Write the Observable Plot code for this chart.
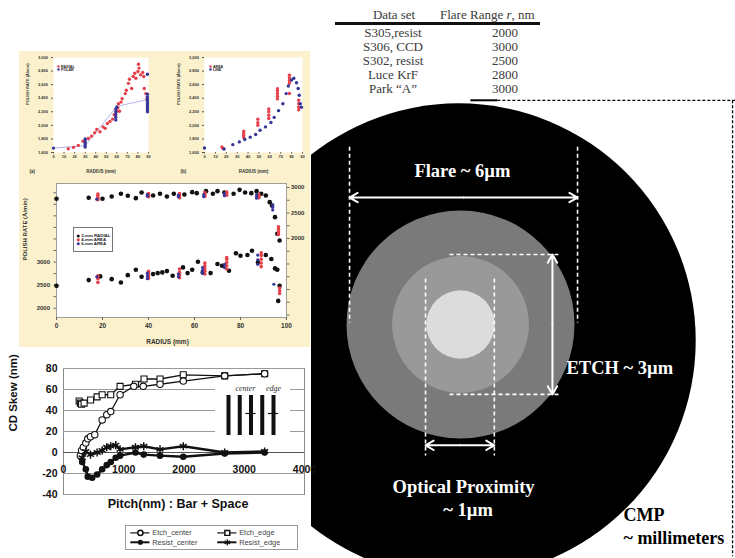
<!DOCTYPE html>
<html><head><meta charset="utf-8">
<script src="https://cdn.jsdelivr.net/npm/d3@7"></script>
<script src="https://cdn.jsdelivr.net/npm/@observablehq/plot@0.6"></script>
<style>
html,body{margin:0;padding:0;background:#fff;}
#root{position:relative;width:735px;height:558px;overflow:hidden;background:#fff;}
.tcell{position:absolute;font-family:"Liberation Serif","Times New Roman",serif;font-size:13px;color:#3a3a3a;white-space:nowrap;line-height:14px;}
</style></head><body><div id="root"></div>
<script>
// ================= DATA =================
// Table
const tableHeaders = ["Data set", "Flare Range r, nm"];
const tableDataSets = ["S305,resist", "S306, CCD", "S302, resist", "Luce KrF", "Park \u201CA\u201D"];
const tableFlareRange = [2000, 3000, 2500, 2800, 3000];

// Polish-rate chart (a): RADIAL (red) / POLAR (blue)
const aRadial = [[14,1655],[19,1675],[23.5,1705],[28,1765],[33,1806],[36,1841],[39,1891],[41,1941],[44,1906],[47,1977],[49,1956],[51,2027],[53.5,2057],[56,2092],[57.5,2157],[60,2207],[61,2258],[61.5,2318],[62.5,2207],[64,2343],[65,2393],[68,2468],[69,2518],[71,2619],[72,2679],[74,2543],[75.5,2719],[77,2769],[78,2694],[80,2794],[80.5,2900],[81,2844],[82.5,2744],[84.5,2779],[85.5,2719],[86,2543],[87.5,2468],[88.5,2393]];
const aPolar = [[0,1665],[30,1680],[30,1710],[30,1740],[30,1770],[30,1800],[59,2080],[59,2120],[59,2160],[59,2200],[59,2240],[60,2270],[89,2200],[89,2230],[89,2260],[89,2290],[89,2320],[89,2350],[89,2380],[89,2420],[89,2460],[89,2754]];
const aPolarTrend = [[0,1665],[30,1700],[60,2280],[89,2380]];
// Polish-rate chart (b): AREA (red) / LINE (blue)
const bArea = [[16,1680],[17,1660],[36,1820],[36,1850],[36,1880],[36,1915],[49,2000],[49,2040],[49,2090],[59,2100],[59,2150],[59,2200],[59,2240],[67,2390],[67,2430],[67,2470],[67,2510],[67,2540],[78,2470],[78,2620],[78,2660],[78,2700],[78,2740],[86.5,2230],[86.5,2270],[86.5,2320],[86.5,2370]];
const bLine = [[0,1666],[18,1651],[26,1716],[32,1756],[37,1791],[42,1826],[47,1866],[51,1927],[56,1977],[61,2042],[64,2117],[68,2217],[72,2318],[75,2468],[77,2579],[80,2669],[82,2694],[84.5,2629],[86,2543],[87,2443],[88,2318],[89,2267]];
const smallRadiusTicks = [0,10,20,30,40,50,60,70,80,90];
const smallRateTicks = [1600,1800,2000,2200,2400,2600,2800,3000];

// Polish-rate chart (c): lower group (left axis) and upper group (right axis)
const cLowerRadial = [[0,2485],[14,2609],[19,2689],[24,2630],[28,2558],[31,2717],[34.5,2833],[37,2681],[42,2739],[44,2761],[46,2776],[48,2804],[50.5,2703],[55,2884],[57,2761],[59,2833],[61.5,3007],[63.6,2776],[67,2761],[70,2957],[72,2920],[75,2811],[78,3189],[80,3137],[83,3152],[85,3246],[87.6,2993],[91,3152],[93.4,3065],[95,2863],[96,2833],[96.4,2159],[97,2485]];
const cLower4mm = [[18,2700],[18,2640],[18,2560],[40,2650],[40,2700],[40,2750],[40,2800],[53.5,2660],[53.5,2720],[53.5,2780],[53.5,2850],[64.5,2740],[64.5,2800],[64.5,2860],[64.5,2920],[64.5,2980],[74,2850],[74,2920],[74,2990],[74,3060],[74,3100],[89,2900],[89,2980],[89,3060],[89,3140],[89,3200],[97,2320],[97,2380],[97,2440]];
const cLower6mm = [[17.5,2680],[39.5,2640],[39.5,2700],[39.5,2760],[53,2680],[53,2740],[63.5,2760],[63.5,2820],[63.5,2880],[73,2880],[73,2950],[87.5,2950],[87.5,3050],[87.5,3150],[94.5,2520]];
const cUpperRadial = [[0,2778],[14,2798],[20,2778],[24,2824],[28,2876],[31,2837],[34.5,2791],[37,2902],[42,2843],[45,2876],[48,2824],[51,2876],[55.6,2863],[59,2908],[61,2889],[65,2928],[68,2876],[70,2928],[73,2902],[77,2876],[79.6,2954],[82,2902],[84.7,2889],[87,2928],[89,2876],[91,2843],[92.7,2712],[93.7,2647],[95,2418],[96,2092],[97,1961]];
const cUpper4mm = [[18,2760],[18,2800],[18,2840],[18,2870],[40,2820],[40,2850],[40,2880],[53.5,2800],[53.5,2840],[53.5,2880],[64.5,2830],[64.5,2870],[64.5,2900],[74,2850],[74,2880],[74,2910],[88,2800],[88,2830],[88,2860],[96.5,2080],[96.5,2130],[96.5,2180],[96.5,2230]];
const cUpper6mm = [[17.5,2770],[39.5,2830],[39.5,2860],[53,2820],[53,2850],[64,2820],[64,2860],[73,2840],[73,2880],[87,2790],[87,2820],[87,2860],[94,2560],[94,2610],[94,2660]];
const cRadiusTicks = [0,20,40,60,80,100];
const cLeftTicks = [2000,2250,2500,2750,3000,3250,3500,3750,4000,4250,4500];
const cRightTicks = [500,750,1000,1250,1500,1750,2000,2250,2500,2750,3000];
const cLabelledTicks = [2000,2500,3000];
const cLegend = ["3-mm RADIAL","4-mm AREA","6-mm AREA"];

// CD skew chart
const cdXTicks = [0,1000,2000,3000,4000];
const cdYTicks = [-40,-20,0,20,40,60,80];
const cdSeries = ["Etch_center","Etch_edge","Resist_center","Resist_edge"];
const etchCenter = [[280,-3],[300,2],[330,5],[370,9],[403,13],[448,15],[519,17],[642,31],[718,36],[784,39],[939,55],[1167,63],[1323,63],[1602,65],[1988,68],[2675,73],[3338,75]];
const etchEdge = [[260,49],[280,47],[300,46],[342,47],[450,50],[558,53],[642,55],[784,55],[939,63],[1194,65],[1337,70],[1602,70],[1988,74],[2675,73],[3338,75]];
const resistCenter = [[310,-9],[370,-16],[403,-23],[476,-24],[558,-21],[642,-16],[718,-12],[784,-9],[867,-5],[939,-3],[1194,0],[1332,-2],[1602,-3],[1988,-4],[2675,-1],[3338,0]];
const resistEdge = [[310,-5],[370,1],[448,-2],[558,0],[642,2],[718,5],[784,6],[867,7],[939,3],[1194,5],[1332,6],[1602,3],[1988,6],[2675,0],[3338,1]];
const insetBars = [0,1,2,3,4];
const insetCrossBars = [2,4];
const insetLabels = [{text:"center", at:1.5},{text:"edge", at:4}];

// Schematic "range of influence" diagram (units: schematic µm)
const zoneNames = ["CMP","Flare","Etch","Optical proximity"];
const zoneRadius = [6.24, 3.0, 1.8, 0.9];
const zoneCenterX = [-0.05, 0, 0, 0];
const zoneCenterY = [-0.42, 0, 0, 0];
const zoneFill = ["#000000","#7a7a7a","#999999","#dcdcdc"];
const flareSpan = [-2.92, 3.08];
const etchSpan = [-1.84, 1.84];
const opticalSpan = [-0.92, 0.89];
const diagramLabels = ["Flare ~ 6\u00B5m","ETCH ~ 3\u00B5m","Optical Proximity","~ 1\u00B5m","CMP","~ millimeters"];

// ================= HELPERS =================
const root = document.getElementById("root");
function place(el, left, top){ el.style.position="absolute"; el.style.left=left+"px"; el.style.top=top+"px"; root.appendChild(el); return el; }
const RED = "#e5404a", NAVY = "#36369a";
const SANS = "Liberation Sans, Arial, sans-serif";
const SERIF = "Liberation Serif, Times New Roman, serif";
const pairs = a => a.map(d => ({x:d[0], y:d[1]}));

// ================= DIAGRAM =================
(function(){
  const zones = zoneNames.map((n,i)=>({name:n, r:zoneRadius[i], cx:zoneCenterX[i], cy:zoneCenterY[i], fill:zoneFill[i]}));
  const dash = {stroke:"white", strokeWidth:1.6, strokeDasharray:"4,3"};
  const arr = {stroke:"white", strokeWidth:2, headLength:7, bend:0};
  const fMid = (flareSpan[0]+flareSpan[1])/2, oMid = (opticalSpan[0]+opticalSpan[1])/2;
  const flareDash = flareSpan.map(x=>({x1:x, x2:x, y1:4.68, y2:0.05}));
  const etchDash = etchSpan.map(y=>({x1:-0.29, x2:2.58, y1:y, y2:y}));
  const optDash = opticalSpan.map(x=>({x1:x, x2:x, y1:1.21, y2:-3.45}));
  const flareArrows = flareSpan.map(x=>({x1:fMid, x2:x, y1:3.34, y2:3.34}));
  const etchArrows = etchSpan.map(y=>({x1:2.42, x2:2.42, y1:0, y2:y}));
  const optArrows = opticalSpan.map(x=>({x1:oMid, x2:x, y1:-3.18, y2:-3.18}));
  const centered = [
    {t:diagramLabels[0], x:0.05, y:4.05},
    {t:diagramLabels[2], x:0.08, y:-4.29},
    {t:diagramLabels[3], x:0.2, y:-4.89}
  ];
  const etchLab = [{t:diagramLabels[1], x:2.79, y:-1.16}];
  const cmpLab = [{t:diagramLabels[4], x:4.29, y:-5.03},{t:diagramLabels[5], x:4.29, y:-5.63}];
  const tstyle = {fontSize:18.5, fontWeight:"bold", fontFamily:SERIF};
  const svg = Plot.plot({
    width:424, height:558, margin:0,
    x:{domain:[-3.921, 7.237], axis:null},
    y:{domain:[-6.158, 8.526], axis:null},
    r:{type:"linear", domain:[0,1], range:[0,38]},
    color:{type:"identity"},
    style:{background:"transparent", overflow:"hidden"},
    marks:[
      Plot.dot(zones, {x:"cx", y:"cy", r:"r", fill:"fill", stroke:null}),
      Plot.link(flareDash, {x1:"x1",x2:"x2",y1:"y1",y2:"y2", ...dash}),
      Plot.link(etchDash, {x1:"x1",x2:"x2",y1:"y1",y2:"y2", ...dash}),
      Plot.link(optDash, {x1:"x1",x2:"x2",y1:"y1",y2:"y2", ...dash}),
      Plot.arrow(flareArrows, {x1:"x1",x2:"x2",y1:"y1",y2:"y2", ...arr}),
      Plot.arrow(etchArrows, {x1:"x1",x2:"x2",y1:"y1",y2:"y2", ...arr}),
      Plot.arrow(optArrows, {x1:"x1",x2:"x2",y1:"y1",y2:"y2", ...arr}),
      Plot.text(centered, {x:"x", y:"y", text:"t", textAnchor:"middle", fill:"white", ...tstyle}),
      Plot.text(etchLab, {x:"x", y:"y", text:"t", textAnchor:"start", fill:"white", ...tstyle}),
      Plot.text(cmpLab, {x:"x", y:"y", text:"t", textAnchor:"start", fill:"black", ...tstyle, fontSize:18}),
      Plot.link([{x1:0.26,x2:0.97,y:5.9}], {x1:"x1",x2:"x2",y1:"y",y2:"y", stroke:"black", strokeWidth:2}),
      Plot.link([{x1:0.97,x2:7.24,y:5.9}], {x1:"x1",x2:"x2",y1:"y",y2:"y", stroke:"black", strokeWidth:1.3, strokeDasharray:"3,2"}),
      Plot.link([{x:7.16,y1:5.9,y2:-6.1}], {x1:"x",x2:"x",y1:"y1",y2:"y2", stroke:"black", strokeWidth:1.3, strokeDasharray:"3,2"})
    ]
  });
  place(svg, 311, 0);
})();

// ================= TABLE =================
(function(){
  const h1 = place(document.createElement("div"), 349, 8); h1.className="tcell"; h1.style.width="90px"; h1.style.textAlign="center"; h1.textContent = tableHeaders[0];
  const h2 = place(document.createElement("div"), 440, 8); h2.className="tcell";
  h2.innerHTML = tableHeaders[1].replace(" r,", " <i>r</i>,");
  const rule = place(document.createElement("div"), 335, 22); rule.style.width="205px"; rule.style.height="2.5px"; rule.style.background="#111";
  tableDataSets.forEach((name,i)=>{
    const y = 26 + i*14;
    const c1 = place(document.createElement("div"), 343, y); c1.className="tcell"; c1.style.width="100px"; c1.style.textAlign="center"; c1.textContent=name;
    const c2 = place(document.createElement("div"), 475, y); c2.className="tcell"; c2.style.width="60px"; c2.style.textAlign="center"; c2.textContent=String(tableFlareRange[i]);
  });
})();

// ================= YELLOW PANEL =================
(function(){
  const bg = place(document.createElement("div"), 19, 51);
  bg.style.width="291px"; bg.style.height="296px"; bg.style.background="#fbf2cd";
})();

function miniLegend(labels, colors, opt){
  const items = labels.map((l,i)=>({label:l, color:colors[i]}));
  return Plot.plot({
    width:opt.width, height:opt.height, margin:0,
    x:{domain:[0,1], range:[opt.dotX, opt.dotX+1], axis:null},
    y:{type:"point", domain:labels, range:opt.yRange, axis:null},
    color:{type:"identity"},
    style:Object.assign({background:opt.bg||"transparent", fontFamily:SANS, overflow:"hidden"}, opt.border?{border:opt.border, boxSizing:"border-box"}:{}),
    marks:[
      Plot.dot(items, {x:()=>0, y:"label", r:opt.r, fill:"color", stroke:null}),
      Plot.text(items, {x:()=>0, y:"label", text:"label", dx:opt.textDx, textAnchor:"start", fontSize:opt.fontSize, fontWeight:"bold", fill:"#222"})
    ]
  });
}

function polishSmall(series, trend, tag, marginRight){
  const marks = [
    Plot.frame({fill:"white", stroke:null}),
    Plot.axisX({ticks:smallRadiusTicks, tickSize:1.5, tickPadding:1, fontSize:4, fontWeight:"bold", label:null, stroke:"#555"}),
    Plot.axisY({ticks:smallRateTicks, tickSize:2, tickPadding:3.5, fontSize:4, fontWeight:"bold", label:null, stroke:"#555"})
  ];
  if (trend) marks.push(Plot.line(pairs(trend), {x:"x", y:"y", stroke:"#9da3e6", strokeWidth:0.8}));
  series.forEach(s => marks.push(Plot.dot(pairs(s.data), {x:"x", y:"y", r:1.7, fill:s.color, stroke:null})));
  marks.push(
    Plot.text(["POLISH RATE (\u00C5/min)"], {text:d=>d, frameAnchor:"left", rotate:-90, dx:-26, fontSize:4, fontWeight:"bold", fill:"#333"}),
    Plot.text(["RADIUS (mm)"], {text:d=>d, frameAnchor:"bottom", dy:20, fontSize:4.5, fontWeight:"bold", fill:"#333"}),
    Plot.text([tag], {text:d=>d, frameAnchor:"bottom-left", dx:-24, dy:20, fontSize:4.5, fontWeight:"bold", fill:"#333"})
  );
  return Plot.plot({
    width:140, height:130, marginLeft:34, marginRight, marginTop:6, marginBottom:29,
    x:{domain:[0,90], axis:null}, y:{domain:[1600,3000], axis:null},
    style:{background:"transparent", fontFamily:SANS, color:"#333", overflow:"visible"},
    marks
  });
}

place(polishSmall([{data:aRadial, color:RED},{data:aPolar, color:NAVY}], aPolarTrend, "(a)", 11), 19, 51);
place(miniLegend(["RADIAL","POLAR"], [RED,NAVY], {width:22, height:12, dotX:2, yRange:[3,9], r:1.2, textDx:2.5, fontSize:3.6}), 56, 61);
place(polishSmall([{data:bArea, color:RED},{data:bLine, color:NAVY}], null, "(b)", 8), 170, 51);
place(miniLegend(["AREA","LINE"], [RED,NAVY], {width:22, height:12, dotX:2, yRange:[3,9], r:1.2, textDx:2.5, fontSize:3.6}), 208, 61);

// ================= CHART (c) =================
(function(){
  const common = {width:291, height:170, marginLeft:37, marginRight:24, marginTop:5, marginBottom:31};
  const lbl = d => cLabelledTicks.includes(d) ? String(d) : "";
  const c1 = Plot.plot({
    ...common,
    x:{domain:[0,100], axis:null}, y:{domain:[1800,4700], axis:null},
    style:{background:"transparent", fontFamily:SANS, color:"#333", overflow:"visible"},
    marks:[
      Plot.frame({fill:"white", stroke:"#888", strokeWidth:0.8}),
      Plot.axisX({ticks:cRadiusTicks, tickSize:3, tickPadding:3, fontSize:6.5, fontWeight:"bold", label:null, stroke:"#666"}),
      Plot.axisY({ticks:cLeftTicks, tickFormat:lbl, tickSize:2.5, tickPadding:4, fontSize:6, fontWeight:"bold", label:null, stroke:"#666"}),
      Plot.dot(pairs(cLowerRadial), {x:"x", y:"y", r:2.3, fill:"#111", stroke:null}),
      Plot.dot(pairs(cLower4mm), {x:"x", y:"y", r:1.8, fill:RED, stroke:null}),
      Plot.dot(pairs(cLower6mm), {x:"x", y:"y", r:1.6, fill:NAVY, stroke:null}),
      Plot.text(["POLISH RATE (\u00C5/min)"], {text:d=>d, frameAnchor:"left", rotate:-90, dx:-31, dy:10, fontSize:6, fontWeight:"bold", fill:"#333"}),
      Plot.text(["RADIUS (mm)"], {text:d=>d, frameAnchor:"bottom", dx:-4, dy:26, fontSize:6.5, fontWeight:"bold", fill:"#333"})
    ]
  });
  place(c1, 19, 178);
  const c2 = Plot.plot({
    ...common,
    x:{domain:[0,100], axis:null}, y:{domain:[451,3078], axis:null},
    style:{background:"transparent", fontFamily:SANS, color:"#333", overflow:"visible"},
    marks:[
      Plot.axisY({anchor:"right", ticks:cRightTicks, tickFormat:lbl, tickSize:2.5, tickPadding:2, fontSize:6, fontWeight:"bold", label:null, stroke:"#666"}),
      Plot.dot(pairs(cUpperRadial), {x:"x", y:"y", r:2.3, fill:"#111", stroke:null}),
      Plot.dot(pairs(cUpper4mm), {x:"x", y:"y", r:1.8, fill:RED, stroke:null}),
      Plot.dot(pairs(cUpper6mm), {x:"x", y:"y", r:1.6, fill:NAVY, stroke:null})
    ]
  });
  place(c2, 19, 178);
  place(miniLegend(cLegend, ["#111",RED,NAVY], {width:40, height:24, dotX:4, yRange:[5,19], r:1.6, textDx:3, fontSize:4.6, bg:"white", border:"0.8px solid #777"}), 73, 227);
})();

// ================= CD SKEW CHART =================
(function(){
  const cd = Plot.plot({
    width:311, height:211, marginLeft:63, marginRight:7, marginTop:21, marginBottom:64,
    x:{domain:[0,4000], axis:null}, y:{domain:[-40,80], axis:null},
    style:{background:"transparent", fontFamily:SANS, color:"#111", overflow:"visible"},
    marks:[
      Plot.frame({fill:"white", stroke:"#8a8a8a"}),
      Plot.ruleY(cdYTicks, {stroke:"#9a9a9a", strokeWidth:1}),
      Plot.ruleY([0], {stroke:"#555", strokeWidth:1.2}),
      Plot.axisY({ticks:cdYTicks, tickFormat:d=>String(d), tickSize:0, tickPadding:6, fontSize:10.5, fontWeight:"bold", label:null}),
      Plot.text(cdXTicks, {x:d=>d, y:()=>0, text:d=>String(d), dy:17, fontSize:10.5, fontWeight:"bold", fill:"#111"}),
      Plot.line(pairs(etchCenter), {x:"x", y:"y", stroke:"#111", strokeWidth:1.3}),
      Plot.line(pairs(etchEdge), {x:"x", y:"y", stroke:"#111", strokeWidth:1.3}),
      Plot.line(pairs(resistCenter), {x:"x", y:"y", stroke:"#111", strokeWidth:2.4}),
      Plot.line(pairs(resistEdge), {x:"x", y:"y", stroke:"#111", strokeWidth:2.4}),
      Plot.dot(pairs(etchEdge), {x:"x", y:"y", symbol:"square", r:3.4, fill:"white", stroke:"#111", strokeWidth:1.1}),
      Plot.dot(pairs(etchCenter), {x:"x", y:"y", symbol:"circle", r:3.2, fill:"white", stroke:"#111", strokeWidth:1.1}),
      Plot.dot(pairs(resistCenter), {x:"x", y:"y", symbol:"circle", r:3.3, fill:"#111", stroke:null}),
      Plot.dot(pairs(resistEdge), {x:"x", y:"y", symbol:"asterisk", r:3.8, stroke:"#111", strokeWidth:1.5}),
      Plot.text(["CD Skew (nm)"], {text:d=>d, frameAnchor:"left", rotate:-90, dx:-50, fontSize:11.5, fontWeight:"bold", fill:"#111"}),
      Plot.text(["Pitch(nm) : Bar + Space"], {text:d=>d, frameAnchor:"bottom", dx:-6, dy:13, fontSize:12.5, fontWeight:"bold", fill:"#111"})
    ]
  });
  place(cd, 0, 347);

  // inset schematic of line patterns
  const inset = Plot.plot({
    width:75, height:60, margin:0,
    x:{domain:[0,4], range:[13,58], axis:null}, y:{domain:[0,1], range:[55,15], axis:null},
    style:{background:"white", fontFamily:SERIF, overflow:"hidden"},
    marks:[
      Plot.ruleX(insetBars, {x:d=>d, y1:()=>0, y2:()=>1, stroke:"#111", strokeWidth:4}),
      Plot.ruleY(insetCrossBars, {y:()=>0.55, x1:d=>d-0.45, x2:d=>d+0.45, stroke:"#111", strokeWidth:1.2}),
      Plot.text(insetLabels, {x:"at", y:()=>1.18, text:"text", fontSize:8, fontStyle:"italic", fill:"#333"})
    ]
  });
  place(inset, 215, 380);

  // legend
  const items = cdSeries.map((n,i)=>({name:n, col:i%2, row:Math.floor(i/2)}));
  const leg = Plot.plot({
    width:173, height:23, margin:0,
    x:{domain:[0,1], range:[14,102], axis:null}, y:{domain:[0,1], range:[6.5,16], axis:null},
    style:{background:"white", fontFamily:SANS, overflow:"hidden", border:"1px solid #9a9a9a", boxSizing:"border-box"},
    marks:[
      Plot.ruleY(items, {y:"row", x1:d=>d.col-0.11, x2:d=>d.col+0.11, stroke:"#111", strokeWidth:d=>d.row?2:1.2}),
      Plot.dot(items.filter(d=>d.name==="Etch_center"), {x:"col", y:"row", symbol:"circle", r:2.6, fill:"white", stroke:"#111"}),
      Plot.dot(items.filter(d=>d.name==="Etch_edge"), {x:"col", y:"row", symbol:"square", r:2.8, fill:"white", stroke:"#111"}),
      Plot.dot(items.filter(d=>d.name==="Resist_center"), {x:"col", y:"row", symbol:"circle", r:2.6, fill:"#111", stroke:null}),
      Plot.dot(items.filter(d=>d.name==="Resist_edge"), {x:"col", y:"row", symbol:"asterisk", r:3, stroke:"#111", strokeWidth:1.3}),
      Plot.text(items, {x:"col", y:"row", text:"name", dx:12, textAnchor:"start", fontSize:7.5, fill:"#444"})
    ]
  });
  place(leg, 125, 525);
})();
</script>
</body></html>
